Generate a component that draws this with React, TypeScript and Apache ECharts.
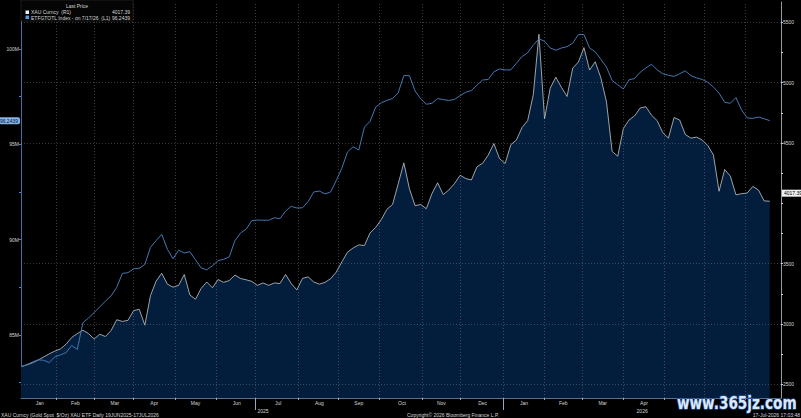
import React, { useEffect, useRef } from "react";
import * as echarts from "echarts";

const START_DATE = "2025-01-07";
const END_DATE = "2026-07-28";
const SAMPLE_STEP = 3; // one reading every 3 weekdays
const LAST_LABELED_MONTH = "2026-04"; // later month labels are hidden under the watermark
const MONTH_NAMES = ["Jan", "Feb", "Mar", "Apr", "May", "Jun", "Jul", "Aug", "Sep", "Oct", "Nov", "Dec"];

// XAU Curncy (gold spot, $/oz), right axis
const goldPrice = [
  2646, 2660, 2677, 2700, 2726, 2752, 2775, 2793, 2832, 2888,
  2920, 2948, 2920, 2875, 2915, 2896, 2945, 3035, 3021, 3030,
  3110, 3122, 2990, 3235, 3355, 3420, 3330, 3305, 3320, 3410,
  3240, 3205, 3295, 3348, 3300, 3368, 3345, 3360, 3405, 3377,
  3366, 3353, 3320, 3340, 3320, 3340, 3335, 3410, 3335, 3282,
  3378, 3390, 3348, 3330, 3345, 3375, 3430, 3515, 3595, 3630,
  3655, 3650, 3754, 3800, 3865, 3950, 3990, 4160, 4335, 4120,
  3980, 3990, 3955, 4080, 4170, 4072, 4110, 4163, 4232, 4205,
  4193, 4303, 4332, 4400, 4495, 4370, 4330, 4485, 4525, 4628,
  4685, 4900, 5400, 4700, 4953, 5045, 4960, 4885, 5120, 5170,
  5290, 5104, 5173, 5040, 4840, 4430, 4390, 4620, 4690, 4725,
  4790, 4800, 4730, 4685, 4585, 4540, 4710, 4690, 4570, 4540,
  4548, 4525, 4478, 4400, 4100, 4280, 4225, 4070, 4080, 4085,
  4140, 4110, 4020, 4017,
];

// ETFGTOTL Index (millions of oz), left axis
const etfHoldings = [
  83.34, 83.45, 83.58, 83.7, 83.68, 83.56, 83.85, 83.96, 84.08, 84.45,
  84.25, 85.65, 85.9, 86.18, 86.48, 86.78, 87.05, 87.5, 88.23, 88.27,
  88.47, 88.5, 88.7, 89.6, 89.95, 90.28, 89.5, 89.0, 89.45, 89.3,
  89.37, 88.95, 88.52, 88.42, 88.63, 88.9, 88.97, 89.1, 89.95, 90.35,
  90.55, 91.0, 91.03, 91.02, 91.02, 91.15, 91.1, 91.5, 91.75, 91.66,
  91.67, 92.0, 92.5, 92.55, 92.4, 92.5, 93.1, 93.75, 94.6, 94.87,
  94.7, 95.9, 96.2, 96.95, 97.18, 97.3, 97.4, 97.7, 98.6, 98.6,
  97.8, 97.38, 97.1, 97.15, 97.4, 97.34, 97.3, 97.35, 97.55, 97.73,
  97.82, 98.1, 98.37, 98.4, 98.8, 98.95, 98.9, 98.9, 99.25, 99.6,
  99.8, 100.2, 100.53, 100.4, 100.05, 99.93, 100.05, 100.12, 100.3, 100.75,
  100.75, 100.05, 99.85, 99.45, 99.05, 98.35, 98.12, 97.9, 98.38, 98.45,
  98.78, 99.0, 99.2, 98.9, 98.7, 98.62, 98.56, 98.7, 98.85, 98.6,
  98.48, 98.4, 98.25, 98.0, 97.68, 97.2, 97.15, 97.45, 96.8, 96.38,
  96.36, 96.43, 96.34, 96.24,
];

const GOLD_LAST = 4017.39;
const ETF_LAST = 96.2439;
const goldAxisLabels = [2500, 3000, 3500, 4500, 5000, 5500];
const goldAxisTicks = [2500, 2750, 3000, 3250, 3500, 3750, 4000, 4250, 4500, 4750, 5000, 5250, 5500];
const etfAxisLabels = [85, 90, 95, 100];
const etfAxisTicks = [82.5, 85, 87.5, 90, 92.5, 95, 97.5, 100, 102.5];
const gridLevels = [2500, 3000, 3500, 4500, 5000, 5500];
const yearSeparatorMonths = ["2025-07", "2026-01"];

const FONT = "Liberation Sans";
const TXT = "#d6d6d6";
const CLEAR = "rgba(0,0,0,0)";

function buildWeekdays(start: string, end: string): string[] {
  const out: string[] = [];
  const d = new Date(start + "T00:00:00Z");
  const e = new Date(end + "T00:00:00Z");
  while (d.getTime() <= e.getTime()) {
    const wd = d.getUTCDay();
    if (wd !== 0 && wd !== 6) out.push(d.toISOString().slice(0, 10));
    d.setUTCDate(d.getUTCDate() + 1);
  }
  return out;
}

export default function App() {
  const ref = useRef<HTMLDivElement>(null);

  useEffect(() => {
    document.body.style.margin = "0";
    document.body.style.background = "#000";
    const chart = echarts.init(ref.current!, null, { renderer: "svg" });

    const days = buildWeekdays(START_DATE, END_DATE);
    const goldData = goldPrice.map((v, k) => [days[k * SAMPLE_STEP], v]);
    const etfData = etfHoldings.map((v, k) => [days[k * SAMPLE_STEP], v]);

    const monthStarts: number[] = [];
    days.forEach((d, i) => {
      if (i > 0 && d.slice(0, 7) !== days[i - 1].slice(0, 7)) monthStarts.push(i);
    });
    const monthStartSet = new Set(monthStarts);
    const segs = [0, ...monthStarts, days.length - 1];
    const monthLabelSet = new Set<number>();
    for (let s = 0; s < segs.length - 1; s++) {
      const c = Math.round((segs[s] + segs[s + 1]) / 2);
      if (days[c].slice(0, 7) <= LAST_LABELED_MONTH) monthLabelSet.add(c);
    }

    const yearStarts = monthStarts.filter((i) => days[i].slice(5, 7) === "01");
    const ysegs = [0, ...yearStarts, days.length - 1];
    const yearLabelSet = new Set<number>();
    for (let s = 0; s < ysegs.length - 1; s++) yearLabelSet.add(Math.round((ysegs[s] + ysegs[s + 1]) / 2));
    const yearTickSet = new Set(monthStarts.filter((i) => yearSeparatorMonths.includes(days[i].slice(0, 7))));

    const gridLineStyle = { color: "rgba(150,150,150,0.38)", type: [1, 2] as any, width: 1 };

    const option: any = {
      animation: false,
      backgroundColor: "#000",
      grid: { left: 21, right: 20, top: 2, bottom: 20, containLabel: false },
      xAxis: [
        {
          type: "category",
          data: days,
          boundaryGap: false,
          axisLine: { show: true, lineStyle: { color: "#5d6f88", width: 1 } },
          axisTick: { show: true, interval: (i: number) => monthStartSet.has(i), length: 2, lineStyle: { color: "#9aa4b2" } },
          axisLabel: {
            interval: (i: number) => monthLabelSet.has(i),
            formatter: (v: string) => MONTH_NAMES[Number(v.slice(5, 7)) - 1],
            fontSize: 5, color: TXT, margin: 2, fontFamily: FONT,
          },
          splitLine: { show: false },
        },
        {
          type: "category",
          data: days,
          boundaryGap: false,
          position: "bottom",
          axisLine: { show: false },
          axisTick: { show: true, interval: (i: number) => yearTickSet.has(i), length: 12, lineStyle: { color: "#9aa4b2" } },
          axisLabel: {
            interval: (i: number) => yearLabelSet.has(i),
            formatter: (v: string) => v.slice(0, 4),
            fontSize: 5, color: TXT, margin: 10, fontFamily: FONT,
          },
          splitLine: { show: false },
        },
      ],
      yAxis: [
        {
          type: "value",
          position: "left",
          min: 81.7,
          max: 102.46,
          axisLine: { show: true, lineStyle: { color: "#3f6fa8" } },
          axisTick: { show: true, customValues: etfAxisTicks, length: 2, lineStyle: { color: "#4a86d0" } },
          axisLabel: { customValues: etfAxisLabels, formatter: (v: number) => v + "M", fontSize: 5, color: TXT, margin: 2, fontFamily: FONT },
          splitLine: { show: false },
        },
        {
          type: "value",
          position: "right",
          min: 2386.5,
          max: 5668,
          axisLine: { show: true, lineStyle: { color: "#9a9a9a" } },
          axisTick: { show: true, customValues: goldAxisTicks, length: 2, lineStyle: { color: "#cfcfcf" } },
          axisLabel: { customValues: goldAxisLabels, formatter: (v: number) => String(v), fontSize: 5, color: TXT, margin: 2, fontFamily: FONT },
          splitLine: { show: false },
        },
      ],
      series: [
        {
          name: "XAU Curncy",
          type: "line",
          xAxisIndex: 0,
          yAxisIndex: 1,
          data: goldData,
          showSymbol: false,
          symbol: "none",
          lineStyle: { color: "#c4c8cc", width: 0.8 },
          areaStyle: { color: "#031e3c", opacity: 1, origin: "start" },
          z: 2,
          markLine: {
            silent: true,
            symbol: ["none", "none"],
            label: { show: false },
            lineStyle: gridLineStyle,
            data: [
              ...gridLevels.map((v) => ({ yAxis: v })),
              ...monthStarts.map((i) => ({ xAxis: i })),
              {
                yAxis: GOLD_LAST,
                lineStyle: { color: CLEAR, width: 1, type: "solid" },
                label: {
                  show: true, position: "end", formatter: GOLD_LAST.toFixed(2),
                  backgroundColor: "#f0f0f0", color: "#000", fontSize: 5, fontFamily: FONT,
                  padding: [1, 2, 1, 2], distance: 1, offset: [0, -8],
                },
              },
            ],
          },
        },
        {
          name: "ETFGTOTL Index",
          type: "line",
          xAxisIndex: 0,
          yAxisIndex: 0,
          data: etfData,
          showSymbol: false,
          symbol: "none",
          lineStyle: { color: "#4477b3", width: 1 },
          z: 3,
          markLine: {
            silent: true,
            symbol: ["none", "none"],
            data: [
              {
                yAxis: ETF_LAST,
                lineStyle: { color: CLEAR, width: 1, type: "solid" },
                label: {
                  show: true, position: "start", formatter: ETF_LAST.toFixed(4),
                  backgroundColor: "#86b3e6", color: "#06182e", fontSize: 5, fontFamily: FONT,
                  padding: [1, 2, 1, 1], borderRadius: 2, distance: 1,
                },
              },
            ],
          },
        },
      ],
      graphic: [
        { type: "rect", x: 21, y: 0, shape: { width: 112, height: 21 }, style: { fill: "#050505", stroke: "#2e2e2e", lineWidth: 0.6 }, z: 10 },
        { type: "text", x: 77, y: 6, style: { text: "Last Price", fill: TXT, fontSize: 5, fontFamily: FONT, textAlign: "center", textVerticalAlign: "middle" }, z: 11 },
        { type: "rect", x: 25.5, y: 10.5, shape: { width: 3.5, height: 3.5 }, style: { fill: "#f2f2f2" }, z: 11 },
        { type: "text", x: 31, y: 12.4, style: { text: "XAU Curncy  (R1)", fill: TXT, fontSize: 5, fontFamily: FONT, textAlign: "left", textVerticalAlign: "middle" }, z: 11 },
        { type: "text", x: 130, y: 12.4, style: { text: GOLD_LAST.toFixed(2), fill: TXT, fontSize: 5, fontFamily: FONT, textAlign: "right", textVerticalAlign: "middle" }, z: 11 },
        { type: "rect", x: 25.5, y: 15.6, shape: { width: 3.5, height: 3.5 }, style: { fill: "#5b9be0" }, z: 11 },
        { type: "text", x: 31, y: 17.5, style: { text: "ETFGTOTL Index - on 7/17/26  (L1)", fill: TXT, fontSize: 5, fontFamily: FONT, textAlign: "left", textVerticalAlign: "middle" }, z: 11 },
        { type: "text", x: 130, y: 17.5, style: { text: ETF_LAST.toFixed(4), fill: TXT, fontSize: 5, fontFamily: FONT, textAlign: "right", textVerticalAlign: "middle" }, z: 11 },
        { type: "text", x: 1, y: 414.5, style: { text: "XAU Curncy (Gold Spot  $/Oz) XAU ETF Daily 19JUN2025-17JUL2026", fill: TXT, fontSize: 5, fontFamily: FONT, textAlign: "left", textVerticalAlign: "middle" } },
        { type: "text", x: 407, y: 414.5, style: { text: "Copyright\u00a9 2026 Bloomberg Finance L.P.", fill: TXT, fontSize: 5, fontFamily: FONT, textAlign: "left", textVerticalAlign: "middle" } },
        { type: "text", x: 800, y: 414.5, style: { text: "17-Jul-2026 17:03:48", fill: TXT, fontSize: 5, fontFamily: FONT, textAlign: "right", textVerticalAlign: "middle" } },
        { type: "text", x: 677, y: 403.5, scaleX: 0.8, style: { text: "www.365jz.com", fill: "#dce8f8", stroke: "#1f4f9c", lineWidth: 1.5, fontSize: 17, fontWeight: "bold", fontFamily: "DejaVu Sans", textAlign: "left", textVerticalAlign: "middle" }, z: 20 },
      ],
    };

    chart.setOption(option);
    return () => chart.dispose();
  }, []);

  return <div ref={ref} style={{ width: 801, height: 418, background: "#000" }} />;
}
